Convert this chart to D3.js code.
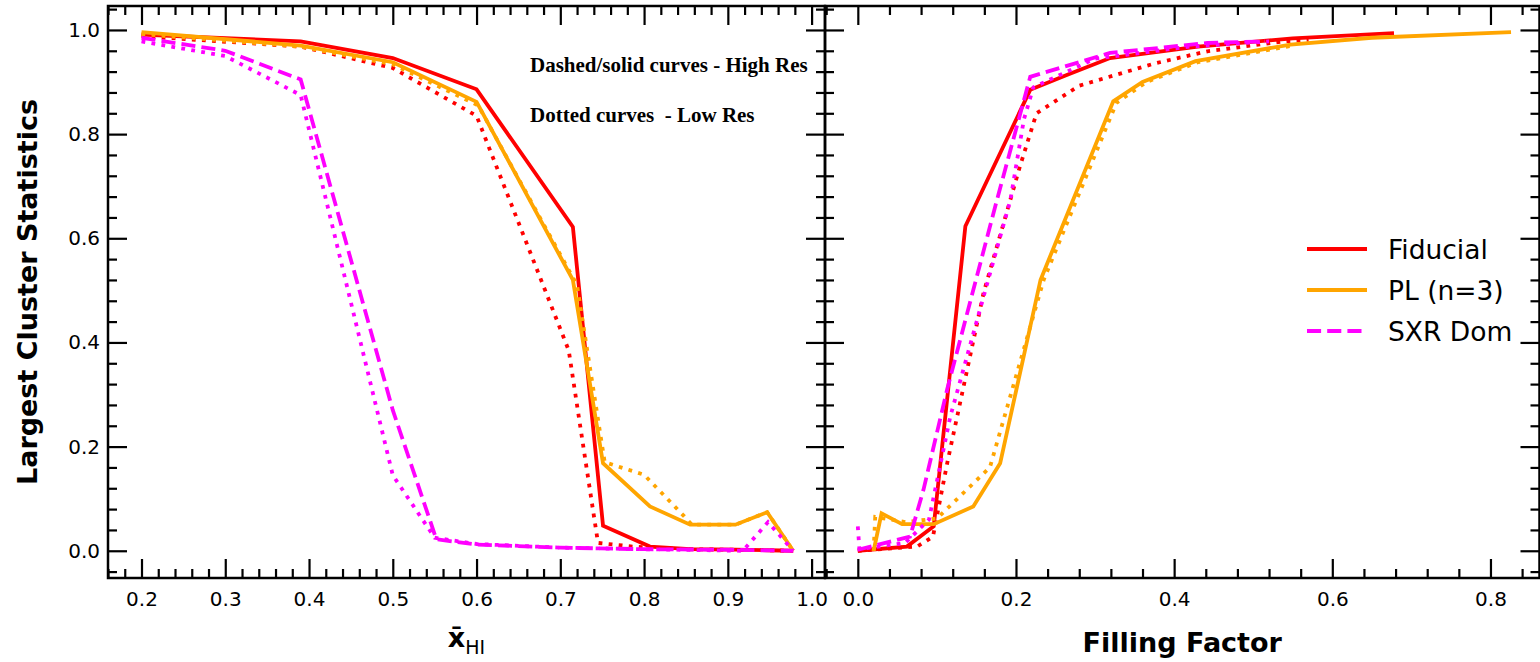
<!DOCTYPE html>
<html>
<head>
<meta charset="utf-8">
<script src="https://cdn.jsdelivr.net/npm/d3@7"></script>
<style>
  html, body { margin: 0; padding: 0; background: #fff; }
  svg { display: block; }
  .tick text { font-family: "DejaVu Sans", sans-serif; font-size: 20px; fill: #000; }
</style>
</head>
<body>
<svg id="chart" width="1540" height="662"></svg>
<script>
// ---- Left panel: largest cluster statistics vs mean neutral fraction ----
const fidHiX_xhi  = [0.2, 0.39, 0.5, 0.6, 0.715, 0.751, 0.807, 0.855, 0.909, 0.947, 0.978];
const fidHiY_xhi  = [0.991, 0.978, 0.946, 0.886, 0.622, 0.048, 0.008, 0.003, 0.002, 0.001, 0.0];
const fidLoX_xhi  = [0.2, 0.39, 0.5, 0.6, 0.71, 0.745, 0.787, 0.85, 0.91, 0.978];
const fidLoY_xhi  = [0.988, 0.968, 0.927, 0.835, 0.385, 0.015, 0.008, 0.003, 0.002, 0.0];
const plHiX_xhi   = [0.2, 0.39, 0.5, 0.6, 0.715, 0.751, 0.807, 0.855, 0.909, 0.947, 0.978];
const plHiY_xhi   = [0.996, 0.97, 0.938, 0.862, 0.52, 0.168, 0.085, 0.05, 0.05, 0.074, 0.0];
const plLoX_xhi   = [0.2, 0.39, 0.5, 0.602, 0.72, 0.753, 0.8, 0.848, 0.857, 0.909, 0.947, 0.978];
const plLoY_xhi   = [0.992, 0.968, 0.934, 0.855, 0.51, 0.17, 0.146, 0.066, 0.05, 0.05, 0.074, 0.0];
const sxrHiX_xhi  = [0.2, 0.3, 0.39, 0.5, 0.552, 0.6, 0.7, 0.8, 0.9, 0.978];
const sxrHiY_xhi  = [0.985, 0.96, 0.905, 0.27, 0.022, 0.012, 0.006, 0.003, 0.002, 0.0];
const sxrLoX_xhi  = [0.2, 0.3, 0.39, 0.5, 0.55, 0.6, 0.7, 0.8, 0.918, 0.948, 0.978];
const sxrLoY_xhi  = [0.978, 0.95, 0.875, 0.145, 0.025, 0.013, 0.006, 0.003, 0.0, 0.055, 0.0];

// ---- Right panel: largest cluster statistics vs filling factor ----
const fidHiX_ff = [0.0, 0.062, 0.096, 0.136, 0.218, 0.265, 0.319, 0.43, 0.55, 0.678];
const fidHiY_ff = [0.0, 0.008, 0.047, 0.623, 0.885, 0.914, 0.946, 0.968, 0.984, 0.994];
const fidLoX_ff = [0.0, 0.075, 0.095, 0.113, 0.159, 0.205, 0.226, 0.28, 0.376, 0.442, 0.538, 0.57];
const fidLoY_ff = [0.0, 0.008, 0.027, 0.168, 0.495, 0.738, 0.84, 0.893, 0.936, 0.959, 0.978, 0.981];
const plHiX_ff  = [0.02, 0.03, 0.056, 0.096, 0.146, 0.18, 0.231, 0.323, 0.36, 0.427, 0.547, 0.65, 0.826];
const plHiY_ff  = [0.0, 0.072, 0.051, 0.051, 0.085, 0.168, 0.52, 0.863, 0.9, 0.94, 0.972, 0.985, 0.996];
const plLoX_ff  = [0.02, 0.022, 0.06, 0.1, 0.167, 0.235, 0.327, 0.365, 0.43, 0.55];
const plLoY_ff  = [0.0, 0.065, 0.055, 0.062, 0.16, 0.52, 0.86, 0.9, 0.938, 0.97];
const sxrHiX_ff = [0.0, 0.066, 0.083, 0.113, 0.176, 0.218, 0.319, 0.442, 0.515];
const sxrHiY_ff = [0.002, 0.027, 0.117, 0.31, 0.674, 0.91, 0.956, 0.975, 0.978];
const sxrLoX_ff = [0.0, 0.002, 0.06, 0.09, 0.117, 0.193, 0.21, 0.222, 0.3, 0.42, 0.52];
const sxrLoY_ff = [0.047, 0.003, 0.015, 0.06, 0.258, 0.674, 0.828, 0.89, 0.945, 0.968, 0.978];

// ---- Axis ticks and labels ----
const yMajor = [0.0, 0.2, 0.4, 0.6, 0.8, 1.0];
const yMinor = [-0.04, 0.04, 0.08, 0.12, 0.16, 0.24, 0.28, 0.32, 0.36, 0.44, 0.48, 0.52, 0.56, 0.64, 0.68, 0.72, 0.76, 0.84, 0.88, 0.92, 0.96, 1.04];
const xhiMajor = [0.2, 0.3, 0.4, 0.5, 0.6, 0.7, 0.8, 0.9, 1.0];
const xhiMinor = [0.16, 0.18, 0.22, 0.24, 0.26, 0.28, 0.32, 0.34, 0.36, 0.38, 0.42, 0.44, 0.46, 0.48,
                  0.52, 0.54, 0.56, 0.58, 0.62, 0.64, 0.66, 0.68, 0.72, 0.74, 0.76, 0.78,
                  0.82, 0.84, 0.86, 0.88, 0.92, 0.94, 0.96, 0.98];
const ffMajor = [0.0, 0.2, 0.4, 0.6, 0.8];
const ffMinor = [-0.04, 0.04, 0.08, 0.12, 0.16, 0.24, 0.28, 0.32, 0.36, 0.44, 0.48, 0.52, 0.56, 0.64, 0.68, 0.72, 0.76, 0.84];

const legendLabels = ["Fiducial", "PL (n=3)", "SXR Dom"];
const seriesColors = ["#ff0000", "#ffa500", "#ff00ff"];
const yTitle = "Largest Cluster Statistics";
const ffTitle = "Filling Factor";
const noteLines = ["Dashed/solid curves - High Res", "Dotted curves  - Low Res"];

// ---- Layout ----
const plotTop = 6, plotBottom = 578;
const leftPanel = { x0: 108, x1: 825 };
const rightPanel = { x0: 825, x1: 1539.5 };

const svg = d3.select("#chart");
const y = d3.scaleLinear().domain([-0.0523, 1.046]).range([plotBottom, plotTop]);
const xL = d3.scaleLinear().domain([0.16, 1.016]).range([leftPanel.x0, leftPanel.x1]);
const xR = d3.scaleLinear().domain([-0.0415, 0.862]).range([rightPanel.x0, rightPanel.x1]);

const LW = 3.8;
const styles = {
  solid: null,
  dashed: `${(3.7 * LW).toFixed(1)},${(1.6 * LW).toFixed(1)}`,
  dotted: `${LW.toFixed(1)},${(1.65 * LW).toFixed(1)}`
};

function drawSeries(g, xs, xv, yv, color, style) {
  const pts = xv.map((v, i) => [v, yv[i]]);
  const line = d3.line().x(d => xs(d[0])).y(d => y(d[1]));
  g.append("path")
    .datum(pts)
    .attr("d", line)
    .attr("fill", "none")
    .attr("stroke", color)
    .attr("stroke-width", LW)
    .attr("stroke-linejoin", "miter")
    .attr("stroke-linecap", "butt")
    .attr("stroke-dasharray", styles[style]);
}

function drawAxes(xs, major, minor, x0, x1, showYLabels, fmt) {
  const g = svg.append("g");
  const tickMaj = 19, tickMin = 9;
  // bottom
  g.append("g").attr("transform", `translate(0,${plotBottom})`)
    .call(d3.axisBottom(xs).tickValues(minor).tickSize(-tickMin).tickFormat(""));
  g.append("g").attr("transform", `translate(0,${plotBottom})`)
    .call(d3.axisBottom(xs).tickValues(major).tickSize(-tickMaj).tickPadding(14).tickFormat(fmt));
  // top
  g.append("g").attr("transform", `translate(0,${plotTop})`)
    .call(d3.axisTop(xs).tickValues(minor).tickSize(-tickMin).tickFormat(""));
  g.append("g").attr("transform", `translate(0,${plotTop})`)
    .call(d3.axisTop(xs).tickValues(major).tickSize(-tickMaj).tickFormat(""));
  // left
  g.append("g").attr("transform", `translate(${x0},0)`)
    .call(d3.axisLeft(y).tickValues(yMinor).tickSize(-tickMin).tickFormat(""));
  g.append("g").attr("transform", `translate(${x0},0)`)
    .call(d3.axisLeft(y).tickValues(yMajor).tickSize(-tickMaj).tickPadding(8)
      .tickFormat(showYLabels ? d3.format(".1f") : ""));
  // right
  g.append("g").attr("transform", `translate(${x1},0)`)
    .call(d3.axisRight(y).tickValues(yMinor).tickSize(-tickMin).tickFormat(""));
  g.append("g").attr("transform", `translate(${x1},0)`)
    .call(d3.axisRight(y).tickValues(yMajor).tickSize(-tickMaj).tickFormat(""));

  g.selectAll(".domain").remove();
  g.selectAll(".tick line").attr("stroke", "#000").attr("stroke-width", 2.2);
  g.selectAll(".tick text").attr("fill", "#000");
  g.append("rect")
    .attr("x", x0).attr("y", plotTop)
    .attr("width", x1 - x0).attr("height", plotBottom - plotTop)
    .attr("fill", "none").attr("stroke", "#000").attr("stroke-width", 2.5);
  return g;
}

// data layers first, axes on top
const gL = svg.append("g");
drawSeries(gL, xL, fidHiX_xhi, fidHiY_xhi, seriesColors[0], "solid");
drawSeries(gL, xL, fidLoX_xhi, fidLoY_xhi, seriesColors[0], "dotted");
drawSeries(gL, xL, plHiX_xhi, plHiY_xhi, seriesColors[1], "solid");
drawSeries(gL, xL, plLoX_xhi, plLoY_xhi, seriesColors[1], "dotted");
drawSeries(gL, xL, sxrHiX_xhi, sxrHiY_xhi, seriesColors[2], "dashed");
drawSeries(gL, xL, sxrLoX_xhi, sxrLoY_xhi, seriesColors[2], "dotted");

const gR = svg.append("g");
drawSeries(gR, xR, fidHiX_ff, fidHiY_ff, seriesColors[0], "solid");
drawSeries(gR, xR, fidLoX_ff, fidLoY_ff, seriesColors[0], "dotted");
drawSeries(gR, xR, plHiX_ff, plHiY_ff, seriesColors[1], "solid");
drawSeries(gR, xR, plLoX_ff, plLoY_ff, seriesColors[1], "dotted");
drawSeries(gR, xR, sxrHiX_ff, sxrHiY_ff, seriesColors[2], "dashed");
drawSeries(gR, xR, sxrLoX_ff, sxrLoY_ff, seriesColors[2], "dotted");

drawAxes(xL, xhiMajor, xhiMinor, leftPanel.x0, leftPanel.x1, true, d3.format(".1f"));
drawAxes(xR, ffMajor, ffMinor, rightPanel.x0, rightPanel.x1, false, d3.format(".1f"));

// resolution note
const note = svg.append("g")
  .attr("font-family", "'Liberation Serif', 'Times New Roman', serif")
  .attr("font-weight", "bold")
  .attr("font-size", 21)
  .attr("fill", "#000");
note.selectAll("text").data(noteLines).join("text")
  .attr("x", 530)
  .attr("y", (d, i) => 72 + i * 50)
  .style("white-space", "pre")
  .text(d => d);

// legend
const legend = svg.append("g").attr("transform", "translate(1307,249)");
legendLabels.forEach((lab, i) => {
  const row = legend.append("g").attr("transform", `translate(0,${i * 41})`);
  row.append("line")
    .attr("x1", 0).attr("x2", 60).attr("y1", 0).attr("y2", 0)
    .attr("stroke", seriesColors[i]).attr("stroke-width", LW)
    .attr("stroke-dasharray", i === 2 ? styles.dashed : null);
  row.append("text")
    .attr("x", 81).attr("y", 9.5)
    .attr("font-family", "'DejaVu Sans', sans-serif")
    .attr("font-size", 26.5)
    .attr("fill", "#000")
    .text(lab);
});

// axis titles
svg.append("text")
  .attr("transform", `translate(37,${(plotTop + plotBottom) / 2}) rotate(-90)`)
  .attr("text-anchor", "middle")
  .attr("font-family", "'DejaVu Sans', sans-serif")
  .attr("font-weight", "bold")
  .attr("font-size", 27)
  .text(yTitle);

svg.append("text")
  .attr("x", (rightPanel.x0 + rightPanel.x1) / 2)
  .attr("y", 652)
  .attr("text-anchor", "middle")
  .attr("font-family", "'DejaVu Sans', sans-serif")
  .attr("font-weight", "bold")
  .attr("font-size", 27)
  .text(ffTitle);

const xhiTitle = svg.append("text")
  .attr("x", (leftPanel.x0 + leftPanel.x1) / 2)
  .attr("y", 647)
  .attr("text-anchor", "middle")
  .attr("font-family", "'DejaVu Sans', sans-serif");
xhiTitle.append("tspan").attr("font-weight", "bold").attr("font-size", 27).text("x\u0304");
xhiTitle.append("tspan").attr("font-size", 19).attr("dy", 7).text("HI");
</script>
</body>
</html>
